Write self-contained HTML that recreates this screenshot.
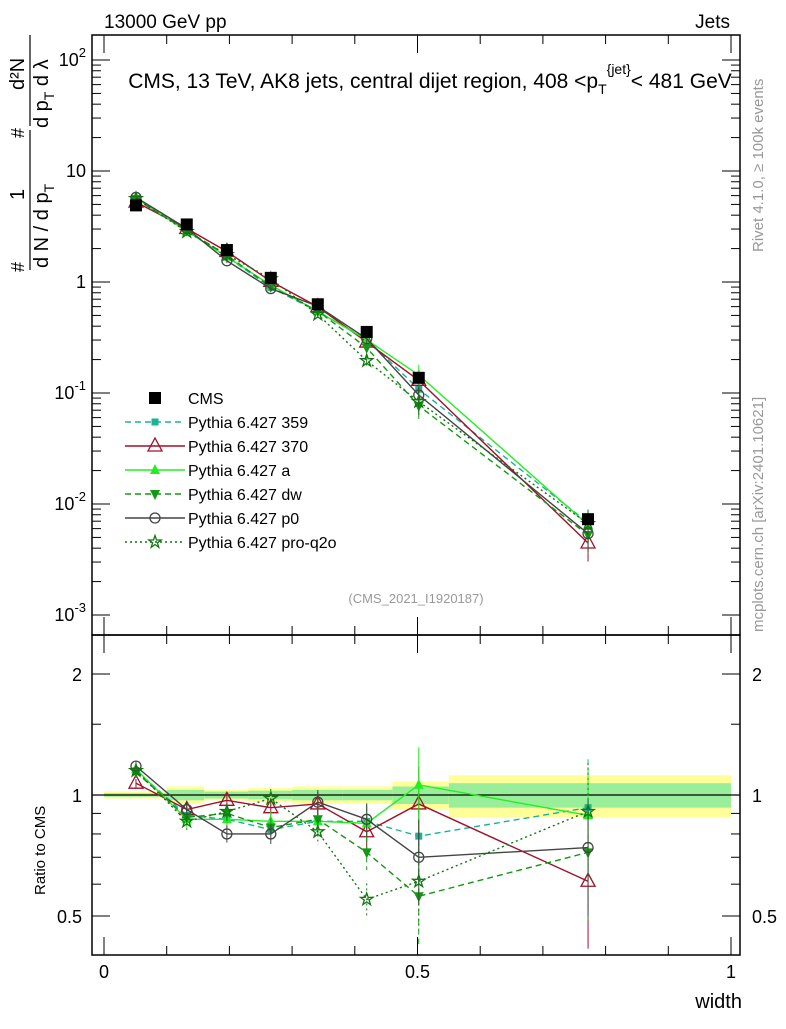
<!DOCTYPE html>
<html><head><meta charset="utf-8"><style>
body{margin:0;background:#fff;}
svg text{font-family:"Liberation Sans",sans-serif;}
</style></head><body>
<svg id="c" width="786" height="1024" xmlns="http://www.w3.org/2000/svg">
<text x="104" y="28" font-size="19">13000 GeV pp</text>
<text x="730" y="28" font-size="19" text-anchor="end">Jets</text>
<text x="430" y="88" font-size="21" text-anchor="middle">CMS, 13 TeV, AK8 jets, central dijet region, 408 &lt;p<tspan font-size="14" dy="6">T</tspan><tspan font-size="14" dy="-20">{jet}</tspan><tspan dy="14">&lt; 481 GeV</tspan></text>
<text transform="translate(763,632) rotate(-90)" font-size="15" fill="#999">mcplots.cern.ch [arXiv:2401.10621]</text>
<text transform="translate(763,252) rotate(-90)" font-size="15" fill="#999">Rivet 4.1.0, ≥ 100k events</text>
<text x="416" y="603" font-size="13" fill="#999" text-anchor="middle">(CMS_2021_I1920187)</text>
<g>
<text transform="translate(48,268) rotate(-90)" font-size="20">d N / d p<tspan font-size="14" dy="6">T</tspan></text>
<line x1="30" x2="30" y1="130" y2="270" stroke="#000" stroke-width="1.2"/>
<text transform="translate(24,200) rotate(-90)" font-size="20">1</text>
<text transform="translate(24,272) rotate(-90)" font-size="18">#</text>
<text transform="translate(48,128) rotate(-90)" font-size="20">d p<tspan font-size="14" dy="6">T</tspan><tspan dy="-6"> d λ</tspan></text>
<line x1="30" x2="30" y1="35" y2="126" stroke="#000" stroke-width="1.2"/>
<text transform="translate(24,90) rotate(-90)" font-size="20">d²N</text>
<text transform="translate(24,138) rotate(-90)" font-size="18">#</text>
</g>
<text transform="translate(45,895) rotate(-90)" font-size="15">Ratio to CMS</text>
<text x="742" y="1008" font-size="20" text-anchor="end">width</text>
<g id="g"></g>
</svg>
<script>
const xs=[0.051,0.132,0.196,0.266,0.341,0.419,0.502,0.772];
const cms=[4.9,3.3,1.94,1.09,0.63,0.355,0.137,0.0073];
const cmsErr=[0.03,0.03,0.03,0.03,0.04,0.05,0.06,0.1];
const binEdges=[0,0.1,0.16,0.23,0.3,0.38,0.46,0.55,1.0];
const yellowBand=[0.02,0.05,0.03,0.04,0.05,0.05,0.08,0.12];
const greenBand=[0.01,0.03,0.02,0.025,0.03,0.03,0.05,0.07];
const r359=[1.15,0.89,0.87,0.82,0.86,0.86,0.79,0.93];
const r370=[1.07,0.92,0.97,0.93,0.95,0.81,0.95,0.61];
const rA=[1.16,0.87,0.87,0.86,0.86,0.85,1.06,0.89];
const rDw=[1.14,0.88,0.9,0.83,0.87,0.72,0.56,0.72];
const rP0=[1.18,0.92,0.80,0.80,0.96,0.87,0.70,0.74];
const rQ2o=[1.15,0.86,0.91,0.98,0.81,0.55,0.61,0.91];
const rErr=[0.03,0.06,0.06,0.07,0.09,0.12,0.3,0.4];
const xTicks=[0,0.5,1];
const logTicks=[-3,-2,-1,0,1,2];
const ratioTicks=[0.5,1,2];

const NS="http://www.w3.org/2000/svg",g=document.getElementById('g');
const L=92,R=740,T=35,M=635,B=955;
const X=v=>104+v*627;
const Y=v=>282-Math.log10(v)*111;
const RY=v=>795-Math.log2(v)*121;
function el(t,a,p){const e=document.createElementNS(NS,t);for(const k in a)e.setAttribute(k,a[k]);(p||g).appendChild(e);return e;}
for(let i=0;i<yellowBand.length;i++){
 let r=el('rect',{x:X(binEdges[i]),y:RY(1+yellowBand[i]),width:X(binEdges[i+1])-X(binEdges[i]),height:RY(1-yellowBand[i])-RY(1+yellowBand[i]),fill:'#ffff99'});
 
 
 let q=el('rect',{x:X(binEdges[i]),y:RY(1+greenBand[i]),width:X(binEdges[i+1])-X(binEdges[i]),height:RY(1-greenBand[i])-RY(1+greenBand[i]),fill:'#99ee99'});
 
 
}
el('line',{x1:L,x2:R,y1:RY(1),y2:RY(1),stroke:'#000','stroke-width':1.2});
for(const [y1,y2] of [[T,M],[M,B]]){const f=el('rect',{x:L,y:y1,width:R-L,height:y2-y1,fill:'none',stroke:'#000','stroke-width':1.5});
 
 }
logTicks.forEach(p=>{
 const y=Y(Math.pow(10,p));
 el('line',{x1:L,x2:L+18,y1:y,y2:y,stroke:'#000'});el('line',{x1:R,x2:R-18,y1:y,y2:y,stroke:'#000'});
 for(let m=2;m<10;m++){const yy=Y(m*Math.pow(10,p));if(yy>T&&yy<M){el('line',{x1:L,x2:L+9,y1:yy,y2:yy,stroke:'#000'});el('line',{x1:R,x2:R-9,y1:yy,y2:yy,stroke:'#000'});}}
 const t=el('text',{x:L-6,y:y+6,'font-size':18,'text-anchor':'end'});
 
 
 if(p===0)t.textContent='1';else if(p===1)t.textContent='10';else{t.textContent='10';const s=el('tspan',{dy:-9,'font-size':13},t);s.textContent=String(p);}
});
ratioTicks.forEach(v=>{const y=RY(v);el('line',{x1:L,x2:L+18,y1:y,y2:y,stroke:'#000'});el('line',{x1:R,x2:R-18,y1:y,y2:y,stroke:'#000'});
 for(const s of [[L-10,'end'],[R+12,'start']]){const t=el('text',{x:s[0],y:y+7,'font-size':18,'text-anchor':s[1]});t.textContent=String(v);
 
 }});
[0.6,0.7,0.8,0.9,1.5,2.5].forEach(v=>{const y=RY(v);if(y>M&&y<B){el('line',{x1:L,x2:L+9,y1:y,y2:y,stroke:'#000'});el('line',{x1:R,x2:R-9,y1:y,y2:y,stroke:'#000'});}});
for(let v=0;v<=1.001;v+=0.1){const x=X(v),big=xTicks.some(t=>Math.abs(t-v)<1e-6);
 for(const [a,b] of [[B,B-(big?18:9)],[T,T+(big?18:9)],[M,M-(big?18:9)],[M,M+(big?18:9)]])el('line',{x1:x,x2:x,y1:a,y2:b,stroke:'#000'});}
xTicks.forEach(v=>{const t=el('text',{x:X(v),y:978,'font-size':18,'text-anchor':'middle'});t.textContent=String(v);
 
 });
function mark(k,x,y,c,p){
 if(k==='sq')el('rect',{x:x-6,y:y-6,width:12,height:12,fill:c},p);
 else if(k==='tsq')el('rect',{x:x-3.5,y:y-3.5,width:7,height:7,fill:c},p);
 else if(k==='otri')el('polygon',{points:`${x},${y-8} ${x-7},${y+5} ${x+7},${y+5}`,fill:'none',stroke:c,'stroke-width':1.3},p);
 else if(k==='tri')el('polygon',{points:`${x},${y-6} ${x-5},${y+4} ${x+5},${y+4}`,fill:c},p);
 else if(k==='dtri')el('polygon',{points:`${x},${y+6} ${x-5},${y-4} ${x+5},${y-4}`,fill:c},p);
 else if(k==='circ')el('circle',{cx:x,cy:y,r:5,fill:'none',stroke:c,'stroke-width':1.3},p);
 else if(k==='star'){let pts=[];for(let i=0;i<10;i++){const r=i%2?2.5:6.5,a=-Math.PI/2+i*Math.PI/5;pts.push((x+r*Math.cos(a)).toFixed(1)+','+(y+r*Math.sin(a)).toFixed(1));}el('polygon',{points:pts.join(' '),fill:'none',stroke:c,'stroke-width':1.3},p);}
}
const series=[
 ['pythia-359',r359,'#1ab394','6,4','tsq','Pythia 6.427 359'],
 ['pythia-370',r370,'#a0102a','','otri','Pythia 6.427 370'],
 ['pythia-a',rA,'#22ee22','','tri','Pythia 6.427 a'],
 ['pythia-dw',rDw,'#119911','6,4','dtri','Pythia 6.427 dw'],
 ['pythia-p0',rP0,'#444','','circ','Pythia 6.427 p0'],
 ['pythia-pro-q2o',rQ2o,'#117711','2,3','star','Pythia 6.427 pro-q2o']];
series.forEach(s=>{
 const grp=el('g',{});
 
 
 const main=xs.map((x,i)=>X(x)+','+Y(cms[i]*s[1][i])).join(' ');
 const rat=xs.map((x,i)=>X(x)+','+RY(s[1][i])).join(' ');
 el('polyline',{points:main,fill:'none',stroke:s[2],'stroke-width':1.4,'stroke-dasharray':s[3]},grp);
 el('polyline',{points:rat,fill:'none',stroke:s[2],'stroke-width':1.4,'stroke-dasharray':s[3]},grp);
 xs.forEach((x,i)=>{
  const e=rErr[i]*0.8,v=s[1][i];
  el('line',{x1:X(x),x2:X(x),y1:RY(v*(1+e)),y2:RY(Math.max(v*(1-e),0.41)),stroke:s[2],'stroke-dasharray':s[3]},grp);
  el('line',{x1:X(x),x2:X(x),y1:Y(cms[i]*v*(1+e)),y2:Y(cms[i]*v*(1-e)),stroke:s[2]},grp);
  mark(s[4],X(x),Y(cms[i]*v),s[2],grp);mark(s[4],X(x),RY(v),s[2],grp);
 });
});
const cg=el('g',{});


xs.forEach((x,i)=>{el('line',{x1:X(x),x2:X(x),y1:Y(cms[i]*(1+cmsErr[i])),y2:Y(cms[i]*(1-cmsErr[i])),stroke:'#000'},cg);mark('sq',X(x),Y(cms[i]),'#000',cg);});
const lg=el('g',{});


mark('sq',155,398,'#000',lg);
let t0=el('text',{x:188,y:404,'font-size':16},lg);t0.textContent='CMS';
series.forEach((s,i)=>{const y=422+i*24;
 el('line',{x1:125,x2:185,y1:y,y2:y,stroke:s[2],'stroke-width':1.4,'stroke-dasharray':s[3]},lg);
 mark(s[4],155,y,s[2],lg);
 const t=el('text',{x:188,y:y+6,'font-size':16},lg);t.textContent=s[5];
 
 });
</script>
</body></html>
